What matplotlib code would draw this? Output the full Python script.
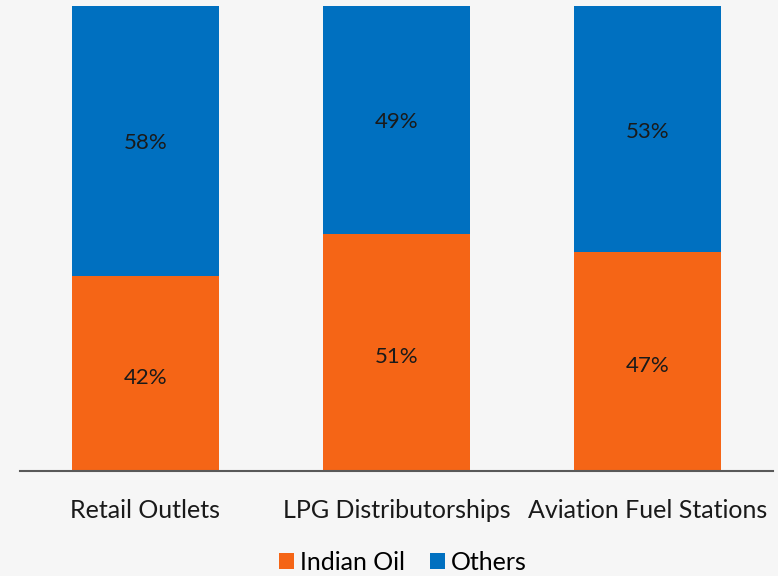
import numpy as np
import matplotlib.pyplot as plt

# Данные
categories = ['Retail Outlets', 'LPG Distributorships', 'Aviation Fuel Stations']
indian_oil = [42, 51, 47]
others = [58, 49, 53]

orange = '#F56516'
blue = '#0070C0'
plt.rcParams['font.family'] = ['Lato', 'DejaVu Sans']

fig = plt.figure(figsize=(7.78, 5.76), dpi=100, facecolor='#f6f6f6')
ax = fig.add_axes([20 / 778, 105 / 576, 753 / 778, 465 / 576])
ax.set_facecolor('#f6f6f6')

x = np.arange(len(categories))
w = 0.582
b1 = ax.bar(x, indian_oil, w, color=orange, label='Indian Oil')
b2 = ax.bar(x, others, w, bottom=indian_oil, color=blue, label='Others')

for i in range(len(categories)):
    ax.text(x[i], indian_oil[i] / 2 - 1, f'{indian_oil[i]}%', ha='center', va='center',
            fontsize=16, color='#1a1a1a')
    ax.text(x[i], indian_oil[i] + others[i] / 2 - 0.5, f'{others[i]}%', ha='center', va='center',
            fontsize=16, color='#1a1a1a')

ax.set_xlim(-0.5, 2.5)
ax.set_ylim(0, 100)
ax.set_xticks(x)
ax.set_xticklabels(categories, fontsize=18, color='#1a1a1a')
ax.tick_params(axis='x', length=0, pad=20)
ax.set_yticks([])
for s in ['top', 'right', 'left']:
    ax.spines[s].set_visible(False)
ax.spines['bottom'].set_color('#595959')
ax.spines['bottom'].set_linewidth(1.5)

fig.legend(handles=[b1, b2], loc='center', bbox_to_anchor=(0.518, 14 / 576), ncol=2,
           frameon=False, fontsize=18, handlelength=0.6, handleheight=0.6,
           handletextpad=0.25, columnspacing=1.0)

plt.savefig('out.png', dpi=100, facecolor=fig.get_facecolor())
